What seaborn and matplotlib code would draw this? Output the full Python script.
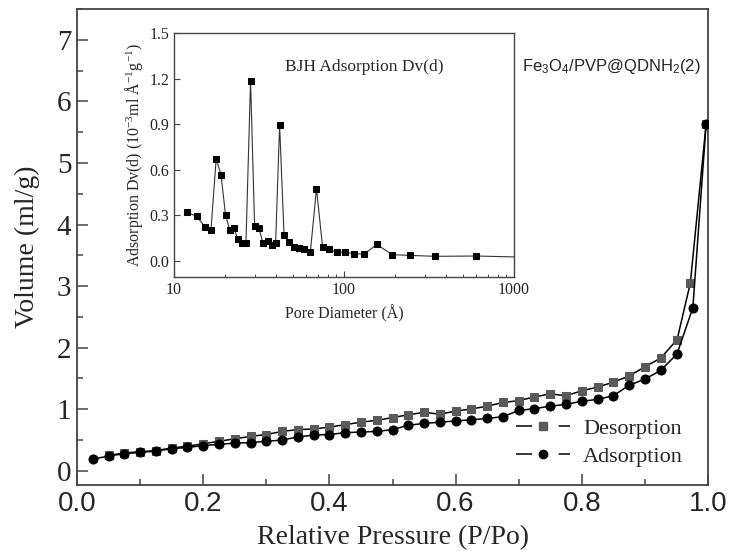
import numpy as np
import pandas as pd
import matplotlib
matplotlib.use("Agg")
import matplotlib.pyplot as plt
import seaborn as sns
from matplotlib.lines import Line2D
from matplotlib.ticker import MultipleLocator, FixedLocator, NullFormatter

# =========================
# DATA
# =========================

# adsorption branch (P/Po, volume ml/g)
ads_p = [0.025, 0.05, 0.075, 0.1, 0.125, 0.15, 0.175, 0.2, 0.225, 0.25,
         0.275, 0.3, 0.325, 0.35, 0.375, 0.4, 0.425, 0.45, 0.475, 0.5,
         0.525, 0.55, 0.575, 0.6, 0.625, 0.65, 0.675, 0.7, 0.725, 0.75,
         0.775, 0.8, 0.825, 0.85, 0.875, 0.9, 0.925, 0.951, 0.976, 0.997]
ads_v = [0.19, 0.24, 0.28, 0.30, 0.32, 0.36, 0.38, 0.41, 0.43, 0.45,
         0.46, 0.48, 0.50, 0.55, 0.58, 0.59, 0.62, 0.63, 0.64, 0.67,
         0.74, 0.77, 0.79, 0.81, 0.83, 0.85, 0.88, 0.98, 1.01, 1.05,
         1.08, 1.13, 1.16, 1.22, 1.39, 1.49, 1.63, 1.90, 2.65, 5.63]

# desorption branch
des_p = [0.05, 0.075, 0.1, 0.125, 0.15, 0.175, 0.2, 0.225, 0.25, 0.275,
         0.3, 0.325, 0.35, 0.375, 0.4, 0.425, 0.45, 0.475, 0.5, 0.525,
         0.55, 0.575, 0.6, 0.625, 0.65, 0.675, 0.7, 0.725, 0.75, 0.775,
         0.8, 0.825, 0.85, 0.875, 0.9, 0.925, 0.951, 0.972, 0.997]
des_v = [0.25, 0.29, 0.31, 0.33, 0.37, 0.40, 0.44, 0.48, 0.52, 0.56,
         0.59, 0.64, 0.67, 0.68, 0.71, 0.75, 0.79, 0.82, 0.865, 0.91,
         0.95, 0.92, 0.97, 1.005, 1.05, 1.11, 1.14, 1.20, 1.25, 1.22,
         1.30, 1.36, 1.44, 1.54, 1.69, 1.83, 2.13, 3.05, 5.63]

# BJH pore size distribution (inset)
pore_d = [11.9, 13.6, 15.2, 16.5, 17.7, 18.9, 20.1, 21.3, 22.5, 23.8,
          25.1, 26.5, 28.2, 29.8, 31.6, 33.4, 35.5, 37.5, 39.6, 41.8,
          44.4, 47.5, 50.7, 54.4, 58.1, 63.4, 68.9, 74.8, 81.6, 90.6,
          101, 115, 131.5, 156, 192, 245, 345, 601, 1100]
pore_dv = [0.32, 0.295, 0.225, 0.203, 0.671, 0.569, 0.302, 0.203, 0.216, 0.142,
           0.12, 0.116, 1.187, 0.23, 0.216, 0.116, 0.133, 0.103, 0.116, 0.897,
           0.168, 0.122, 0.094, 0.083, 0.081, 0.059, 0.477, 0.092, 0.077, 0.057,
           0.059, 0.048, 0.046, 0.109, 0.042, 0.037, 0.031, 0.033, 0.026]

x_ticks = [0.0, 0.2, 0.4, 0.6, 0.8, 1.0]
y_ticks = [0, 1, 2, 3, 4, 5, 6, 7]
inset_yticks = [0.0, 0.3, 0.6, 0.9, 1.2, 1.5]
inset_xticks = [10, 100, 1000]

ads_df = pd.DataFrame({"p": ads_p, "v": ads_v})
des_df = pd.DataFrame({"p": des_p, "v": des_v})
bjh_df = pd.DataFrame({"d": pore_d, "dv": pore_dv})

# =========================
# STYLE
# =========================

sns.set_style("ticks")
plt.rcParams["font.family"] = ["Liberation Serif", "DejaVu Serif"]
plt.rcParams["mathtext.default"] = "regular"
plt.rcParams["xtick.direction"] = "in"
plt.rcParams["ytick.direction"] = "in"

spine_col = "#444444"

fig = plt.figure(figsize=(7.31, 5.59), dpi=100)
ax = fig.add_axes([0.10534, 0.13238, 0.86320, 0.85152])

# =========================
# MAIN ISOTHERM
# =========================

sns.lineplot(data=des_df, x="p", y="v", ax=ax, estimator=None, sort=False,
             color="black", linewidth=1.1, marker="s", markersize=6,
             markerfacecolor="#5a5a5a", markeredgecolor="#5a5a5a", zorder=3)
sns.lineplot(data=ads_df, x="p", y="v", ax=ax, estimator=None, sort=False,
             color="black", linewidth=1.1, marker="o", markersize=6.5,
             markerfacecolor="black", markeredgecolor="black", zorder=4)

ax.set_xlim(0, 1.0)
ax.set_ylim(-0.23, 7.5)
ax.xaxis.set_major_locator(FixedLocator(x_ticks))
ax.xaxis.set_minor_locator(MultipleLocator(0.1))
ax.yaxis.set_major_locator(FixedLocator(y_ticks))
ax.yaxis.set_minor_locator(MultipleLocator(0.5))
ax.set_xticklabels([f"{t:.1f}" for t in x_ticks],
                   fontfamily="Liberation Sans", fontsize=20)
ax.set_yticklabels([str(t) for t in y_ticks], fontsize=21)
ax.tick_params(which="major", length=8, width=1.1, color=spine_col, pad=4)
ax.tick_params(which="minor", length=4.5, width=1.1, color=spine_col)
ax.tick_params(axis="y", which="both", right=False)
ax.tick_params(axis="x", which="both", top=False)

for s in ax.spines.values():
    s.set_color(spine_col)
    s.set_linewidth(1.3)
    s.set_visible(True)

ax.set_xlabel("Relative Pressure (P/Po)", fontsize=20, labelpad=6)
ax.set_ylabel("Volume (ml/g)", fontsize=20, labelpad=12)

# legend with Origin-style broken line handles
h_des = Line2D([], [], color="black", linewidth=1.1, dashes=(10.5, 17.4),
               marker="s", markersize=6, markerfacecolor="#5a5a5a",
               markeredgecolor="#5a5a5a")
h_ads = Line2D([], [], color="black", linewidth=1.1, dashes=(10.5, 17.4),
               marker="o", markersize=6, markerfacecolor="black",
               markeredgecolor="black")
ax.legend(handles=[h_des, h_ads], labels=["Desorption", "Adsorption"],
          loc="lower right", bbox_to_anchor=(0.985, 0.005), frameon=False,
          fontsize=16, handlelength=2.4, handletextpad=0.6,
          labelspacing=0.35, borderaxespad=0.3)

ax.text(0.705, 0.88, "Fe$_3$O$_4$/PVP@QDNH$_2$(2)", transform=ax.transAxes,
        fontsize=12, fontfamily="Liberation Sans", ha="left", va="center")

# =========================
# INSET: BJH DISTRIBUTION
# =========================

ins = fig.add_axes([0.23803, 0.50447, 0.46512, 0.43649])
sns.lineplot(data=bjh_df, x="d", y="dv", ax=ins, estimator=None, sort=False,
             color="#333333", linewidth=0.8, marker="s", markersize=3.8,
             markerfacecolor="black", markeredgecolor="black")
ins.set_xscale("log")
ins.set_xlim(10, 1000)
ins.set_ylim(-0.105, 1.5)
ins.xaxis.set_major_locator(FixedLocator(inset_xticks))
ins.xaxis.set_minor_formatter(NullFormatter())
ins.set_xticklabels([str(t) for t in inset_xticks], fontsize=11.5)
ins.yaxis.set_major_locator(FixedLocator(inset_yticks))
ins.set_yticklabels([f"{t:.1f}" for t in inset_yticks], fontsize=11.5)
ins.tick_params(which="major", length=4, width=0.8, color=spine_col)
ins.tick_params(which="minor", length=2.5, width=0.7, color=spine_col)
ins.tick_params(axis="y", which="both", right=False)
ins.tick_params(axis="x", which="both", top=False)
for s in ins.spines.values():
    s.set_color(spine_col)
    s.set_linewidth(1.0)
    s.set_visible(True)

ins.set_xlabel("Pore Diameter (Å)", fontsize=11.5, labelpad=5)
ins.set_ylabel("Adsorption Dv(d) (10$^{-3}$ml Å$^{-1}$g$^{-1}$)",
               fontsize=11.5, labelpad=3)
ins.text(0.56, 0.86, "BJH Adsorption Dv(d)", transform=ins.transAxes,
         fontsize=12.5, ha="center", va="center")

fig.savefig("out.png", dpi=100)
plt.close(fig)
